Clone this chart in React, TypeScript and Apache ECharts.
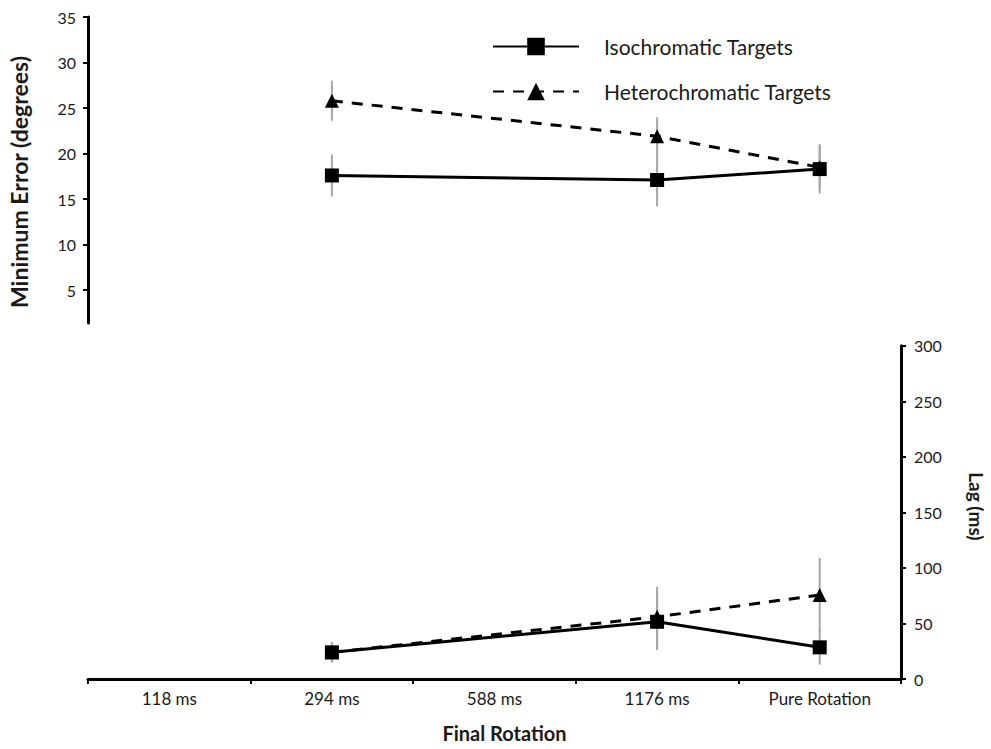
import React, { useEffect, useRef } from "react";
import * as echarts from "echarts";

const categories = ["118 ms", "294 ms", "588 ms", "1176 ms", "Pure Rotation"];
const errorTicks = [5, 10, 15, 20, 25, 30, 35];

// Top panel: Minimum Error (degrees)
const isoError = [null, 17.6, null, 17.1, 18.3];
const heteroError = [null, 25.8, null, 21.9, 18.5];
const isoErrorBars = [
  [1, 15.3, 19.9],
  [3, 14.2, 20.0],
  [4, 15.6, 21.0],
];
const heteroErrorBars = [
  [1, 23.6, 28.0],
  [3, 19.8, 24.0],
  [4, 16.0, 21.0],
];

// Bottom panel: Lag (ms)
const isoLag = [null, 24, null, 51.5, 28.5];
const heteroLag = [null, 24, null, 56, 75.6];
const isoLagBars = [
  [1, 15, 33],
  [3, 26, 78],
  [4, 13, 45],
];
const heteroLagBars = [
  [1, 15, 33],
  [3, 28, 83],
  [4, 43, 109],
];

const FONT = "Lato";
const TEXT = "#1a1a1a";

function errorBarSeries(data: number[][], xi: number, yi: number) {
  return {
    type: "custom",
    xAxisIndex: xi,
    yAxisIndex: yi,
    z: 1,
    silent: true,
    encode: { x: 0, y: [1, 2] },
    data,
    renderItem: (params: any, api: any) => {
      const x = api.value(0);
      const p1 = api.coord([x, api.value(1)]);
      const p2 = api.coord([x, api.value(2)]);
      return {
        type: "line",
        shape: { x1: p1[0], y1: p1[1], x2: p2[0], y2: p2[1] },
        style: { stroke: "#a6a6a6", lineWidth: 2 },
      };
    },
  };
}

export default function App() {
  const ref = useRef<HTMLDivElement>(null);
  useEffect(() => {
    document.body.style.margin = "0";
    const chart = echarts.init(ref.current!, null, { renderer: "svg" });
    const isoName = "Isochromatic Targets";
    const heteroName = "Heterochromatic Targets";
    const isoLine = {
      type: "line",
      name: isoName,
      symbol: "rect",
      symbolSize: 14,
      connectNulls: true,
      z: 4,
      lineStyle: { color: "#000", width: 3, type: "solid" },
      itemStyle: { color: "#000" },
    };
    const heteroLine = {
      type: "line",
      name: heteroName,
      symbol: "triangle",
      symbolSize: 14,
      connectNulls: true,
      z: 3,
      lineStyle: { color: "#000", width: 3, type: [11, 9] },
      itemStyle: { color: "#000" },
    };
    chart.setOption({
      animation: false,
      backgroundColor: "#fff",
      textStyle: { fontFamily: FONT },
      legend: {
        orient: "vertical",
        left: 492,
        top: 36,
        padding: 0,
        itemWidth: 86,
        itemHeight: 22,
        itemGap: 24,
        data: [isoName, heteroName],
        textStyle: { fontFamily: FONT, fontSize: 21, color: TEXT, padding: [0, 0, 0, 20] },
      },
      grid: [
        { left: 88, right: 90, top: 17, height: 306, outerBoundsMode: "none", containLabel: false },
        { left: 88, right: 90, top: 345.7, height: 333.3, outerBoundsMode: "none", containLabel: false },
      ],
      xAxis: [
        {
          type: "category",
          gridIndex: 0,
          data: categories,
          show: false,
        },
        {
          type: "category",
          gridIndex: 1,
          data: categories,
          boundaryGap: true,
          axisLine: { lineStyle: { color: "#000", width: 3 } },
          axisTick: { show: true, length: 5, lineStyle: { color: "#000", width: 2 } },
          axisLabel: { fontFamily: FONT, fontSize: 17, color: TEXT, margin: 11 },
          name: "Final Rotation",
          nameLocation: "middle",
          nameGap: 44,
          nameTextStyle: {
            fontFamily: FONT,
            fontSize: 20,
            fontWeight: "bold",
            color: TEXT,
            padding: [0, 0, 0, 20],
          },
        },
      ],
      yAxis: [
        {
          type: "value",
          gridIndex: 0,
          position: "left",
          min: 1.4,
          max: 35,
          splitLine: { show: false },
          axisLine: { show: true, lineStyle: { color: "#000", width: 3 } },
          axisTick: {
            show: true,
            length: 5,
            lineStyle: { color: "#000", width: 2 },
            customValues: errorTicks,
          },
          axisLabel: {
            fontFamily: FONT,
            fontSize: 16,
            color: TEXT,
            margin: 12,
            customValues: errorTicks,
          },
          name: "Minimum Error (degrees)",
          nameLocation: "middle",
          nameGap: 58,
          nameTextStyle: {
            fontFamily: FONT,
            fontSize: 23,
            fontWeight: "bold",
            color: TEXT,
            padding: [0, 24, 0, 0],
          },
        },
        {
          type: "value",
          gridIndex: 1,
          position: "right",
          min: 0,
          max: 300,
          interval: 50,
          splitLine: { show: false },
          axisLine: { show: true, lineStyle: { color: "#000", width: 3 } },
          axisTick: { show: true, length: 5, lineStyle: { color: "#000", width: 2 } },
          axisLabel: { fontFamily: FONT, fontSize: 16, color: TEXT, margin: 13 },
          name: "Lag (ms)",
          nameLocation: "middle",
          nameRotate: -90,
          nameGap: 66,
          nameTextStyle: {
            fontFamily: FONT,
            fontSize: 19,
            fontWeight: "bold",
            color: TEXT,
            padding: [0, 12, 0, 0],
          },
        },
      ],
      series: [
        errorBarSeries(isoErrorBars, 0, 0),
        errorBarSeries(heteroErrorBars, 0, 0),
        errorBarSeries(isoLagBars, 1, 1),
        errorBarSeries(heteroLagBars, 1, 1),
        { ...heteroLine, xAxisIndex: 0, yAxisIndex: 0, data: heteroError },
        { ...isoLine, xAxisIndex: 0, yAxisIndex: 0, data: isoError },
        { ...heteroLine, xAxisIndex: 1, yAxisIndex: 1, data: heteroLag },
        { ...isoLine, xAxisIndex: 1, yAxisIndex: 1, data: isoLag },
      ],
    });
    return () => chart.dispose();
  }, []);
  return <div ref={ref} style={{ width: 991, height: 749 }} />;
}
